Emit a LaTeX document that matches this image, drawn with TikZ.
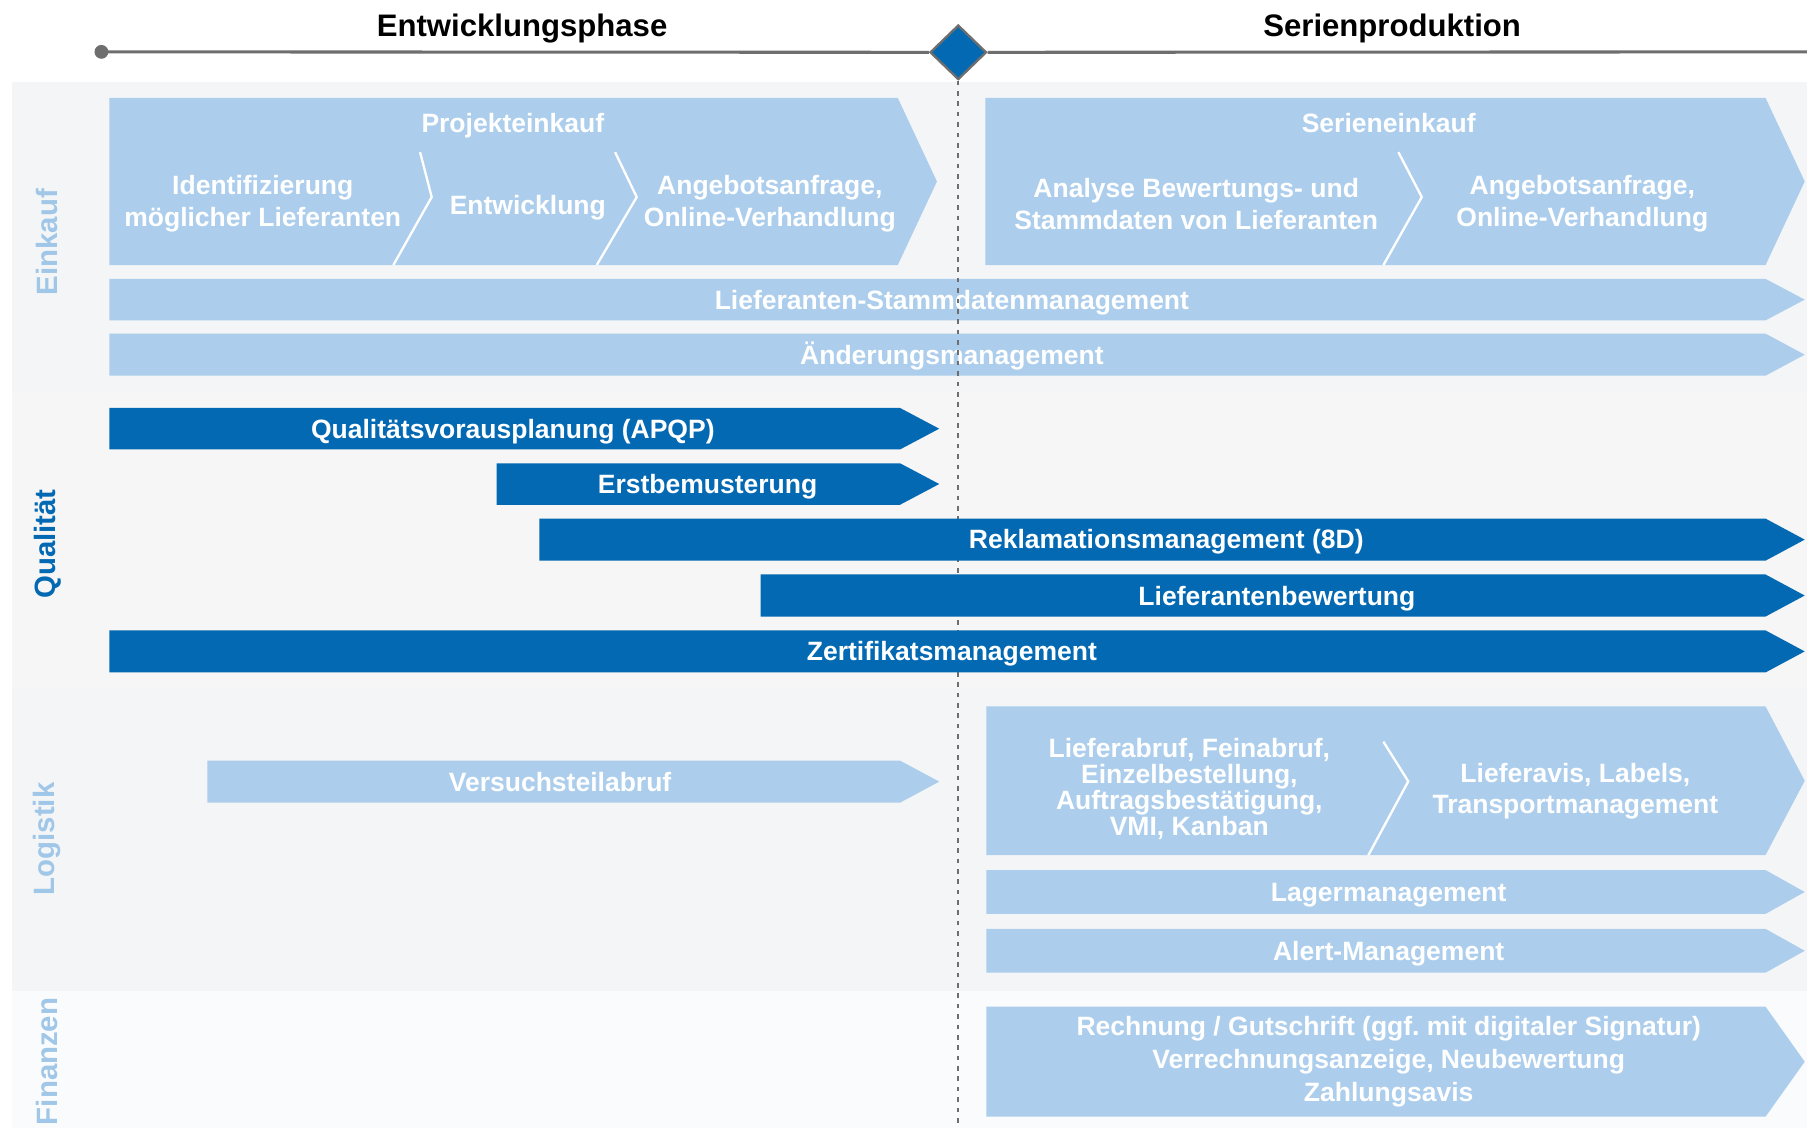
\documentclass[tikz,border=0pt]{standalone}
\usepackage{fontspec}
\setmainfont{Liberation Sans}
\usetikzlibrary{shapes.geometric}
\definecolor{qblue}{HTML}{0369B3}
\definecolor{fade}{RGB}{172,206,236}
\definecolor{fadelbl}{RGB}{160,198,232}
\definecolor{laneA}{HTML}{F3F5F7}
\definecolor{laneQ}{HTML}{F6F6F6}
\definecolor{laneF}{HTML}{FAFBFC}
\definecolor{tline}{HTML}{6E6E6E}
\tikzset{
  ft/.style={text=white, font=\bfseries\fontsize{13.8}{16.8}\selectfont, align=center, inner sep=0pt},
  one/.style={ft, text height=9.9pt, text depth=0pt},
  sidelbl/.style={font=\bfseries\fontsize{15.3}{18}\selectfont, rotate=90, inner sep=0pt},
  ttl/.style={font=\bfseries\fontsize{16.2}{19}\selectfont, anchor=base, inner sep=0pt, text=black},
  fadefill/.style={fill=fade},
  qfill/.style={fill=qblue},
  sepline/.style={draw=white, line width=1.2pt},
  tl/.style={draw=tline, line width=1.6pt},
  vdash/.style={draw=tline, line width=0.8pt, dash pattern=on 2.4pt off 3pt},
}
\newcommand\harr[5]{%
  \fill[#1] (#2,#4) -- ({#3-34},#4) -- (#3,{(#4+#5)/2}) -- ({#3-34},#5) -- (#2,#5) -- cycle;}
\begin{document}
\frenchspacing
\begin{tikzpicture}[x=0.6pt,y=-0.6pt]
\useasboundingbox (0,0) rectangle (1568,979);
\fill[white] (0,0) rectangle (1568,979);
% lanes
\fill[laneA] (10,71) rectangle (1568,339);
\fill[laneQ] (10,339) rectangle (1568,597);
\fill[laneA] (10,597) rectangle (1568,860);
\fill[laneF] (10,860) rectangle (1568,979);

% titles and timeline
\node[ttl] (t1) at (453,31.8) {Entwicklungsphase};
\node[ttl] (t2) at (1208,31.8) {Serienproduktion};
\node[circle, fill=tline, minimum size=7.2pt, inner sep=0pt] (dot) at (88,45) {};
\coordinate (tend) at (1568,45);
\coordinate (vend) at (831.5,979);
\node[diamond, shape aspect=1, draw=tline, fill=qblue, line width=1.2pt,
      minimum width=29.4pt, minimum height=28.4pt, inner sep=0pt] (ms) at (831.5,45.4) {};
\draw[tl] (dot.center) -- (ms.west);
\draw[tl] (ms.east) -- (tend);

% side labels
\node[sidelbl, text=fadelbl] (lE) at (41,210) {Einkauf};
\node[sidelbl, text=qblue] (lQ) at (41,472) {Qualität};
\node[sidelbl, text=fadelbl] (lL) at (41,728) {Logistik};
\node[sidelbl, text=fadelbl] (lF) at (41,921) {Finanzen};

% Einkauf
\harr{fadefill}{95}{813}{85}{230}
\node[one] (pe) at (445,107) {Projekteinkauf};
\node[ft] (pe1) at (228,177) {Identifizierung\\möglicher Lieferanten};
\node[one] (pe2) at (458,178) {Entwicklung};
\node[ft] (pe3) at (668,177) {Angebotsanfrage,\\Online-Verhandlung};
\draw[sepline] (364.5,132) -- (374.6,171) -- (341.3,230);
\draw[sepline] (533.7,132) -- (552.5,171) -- (517.8,230);

\harr{fadefill}{855}{1566}{85}{230}
\node[one] (se) at (1205,107) {Serieneinkauf};
\node[ft] (se1) at (1038,177) {Analyse Bewertungs- und\\Stammdaten von Lieferanten};
\node[ft] (se2) at (1373,177) {Angebotsanfrage,\\Online-Verhandlung};
\draw[sepline] (1213.4,132) -- (1233.7,171) -- (1200.4,230);

\harr{fadefill}{95}{1566}{242}{278}
\node[one] (sd) at (826,260) {Lieferanten-Stammdatenmanagement};
\harr{fadefill}{95}{1566}{289.5}{326}
\node[one] (am) at (826,308) {Änderungsmanagement};

% Logistik (faded)
\harr{fadefill}{180}{815}{660}{696.5}
\node[one] (vt) at (486,678.5) {Versuchsteilabruf};
\harr{fadefill}{856}{1566}{613}{742}
\node[ft, font=\bfseries\fontsize{13.8}{13.5}\selectfont] (la) at (1032,684.5)
  {Lieferabruf, Feinabruf,\\Einzelbestellung,\\Auftragsbestätigung,\\VMI, Kanban};
\node[ft, font=\bfseries\fontsize{13.8}{16.2}\selectfont] (lv) at (1367,686.5)
  {Lieferavis, Labels,\\Transportmanagement};
\draw[sepline] (1200.4,643.6) -- (1222,678) -- (1187.4,742);
\harr{fadefill}{856}{1566}{755}{793}
\node[one] (lm) at (1205,774) {Lagermanagement};
\harr{fadefill}{856}{1566}{806}{844}
\node[one] (alm) at (1205,825) {Alert-Management};

% Finanzen
\harr{fadefill}{856}{1566}{873.5}{969}
\node[ft, font=\bfseries\fontsize{13.8}{17.1}\selectfont] (fi) at (1205,921.5)
  {Rechnung / Gutschrift (ggf. mit digitaler Signatur)\\Verrechnungsanzeige, Neubewertung\\Zahlungsavis};

% milestone line
\draw[vdash] (ms.south) -- (vend);

% Qualitaet
\harr{qfill}{95}{815}{354}{390}
\node[one] (qa) at (445,372) {Qualitätsvorausplanung (APQP)};
\harr{qfill}{431}{815}{402}{438}
\node[one] (eb) at (614,420) {Erstbemusterung};
\harr{qfill}{468}{1566}{450}{486.5}
\node[one] (rm) at (1012,468) {Reklamationsmanagement (8D)};
\harr{qfill}{660}{1566}{498.5}{535}
\node[one] (lb) at (1108,517) {Lieferantenbewertung};
\harr{qfill}{95}{1566}{547}{583.5}
\node[one] (zm) at (826,565) {Zertifikatsmanagement};
\end{tikzpicture}
\end{document}
